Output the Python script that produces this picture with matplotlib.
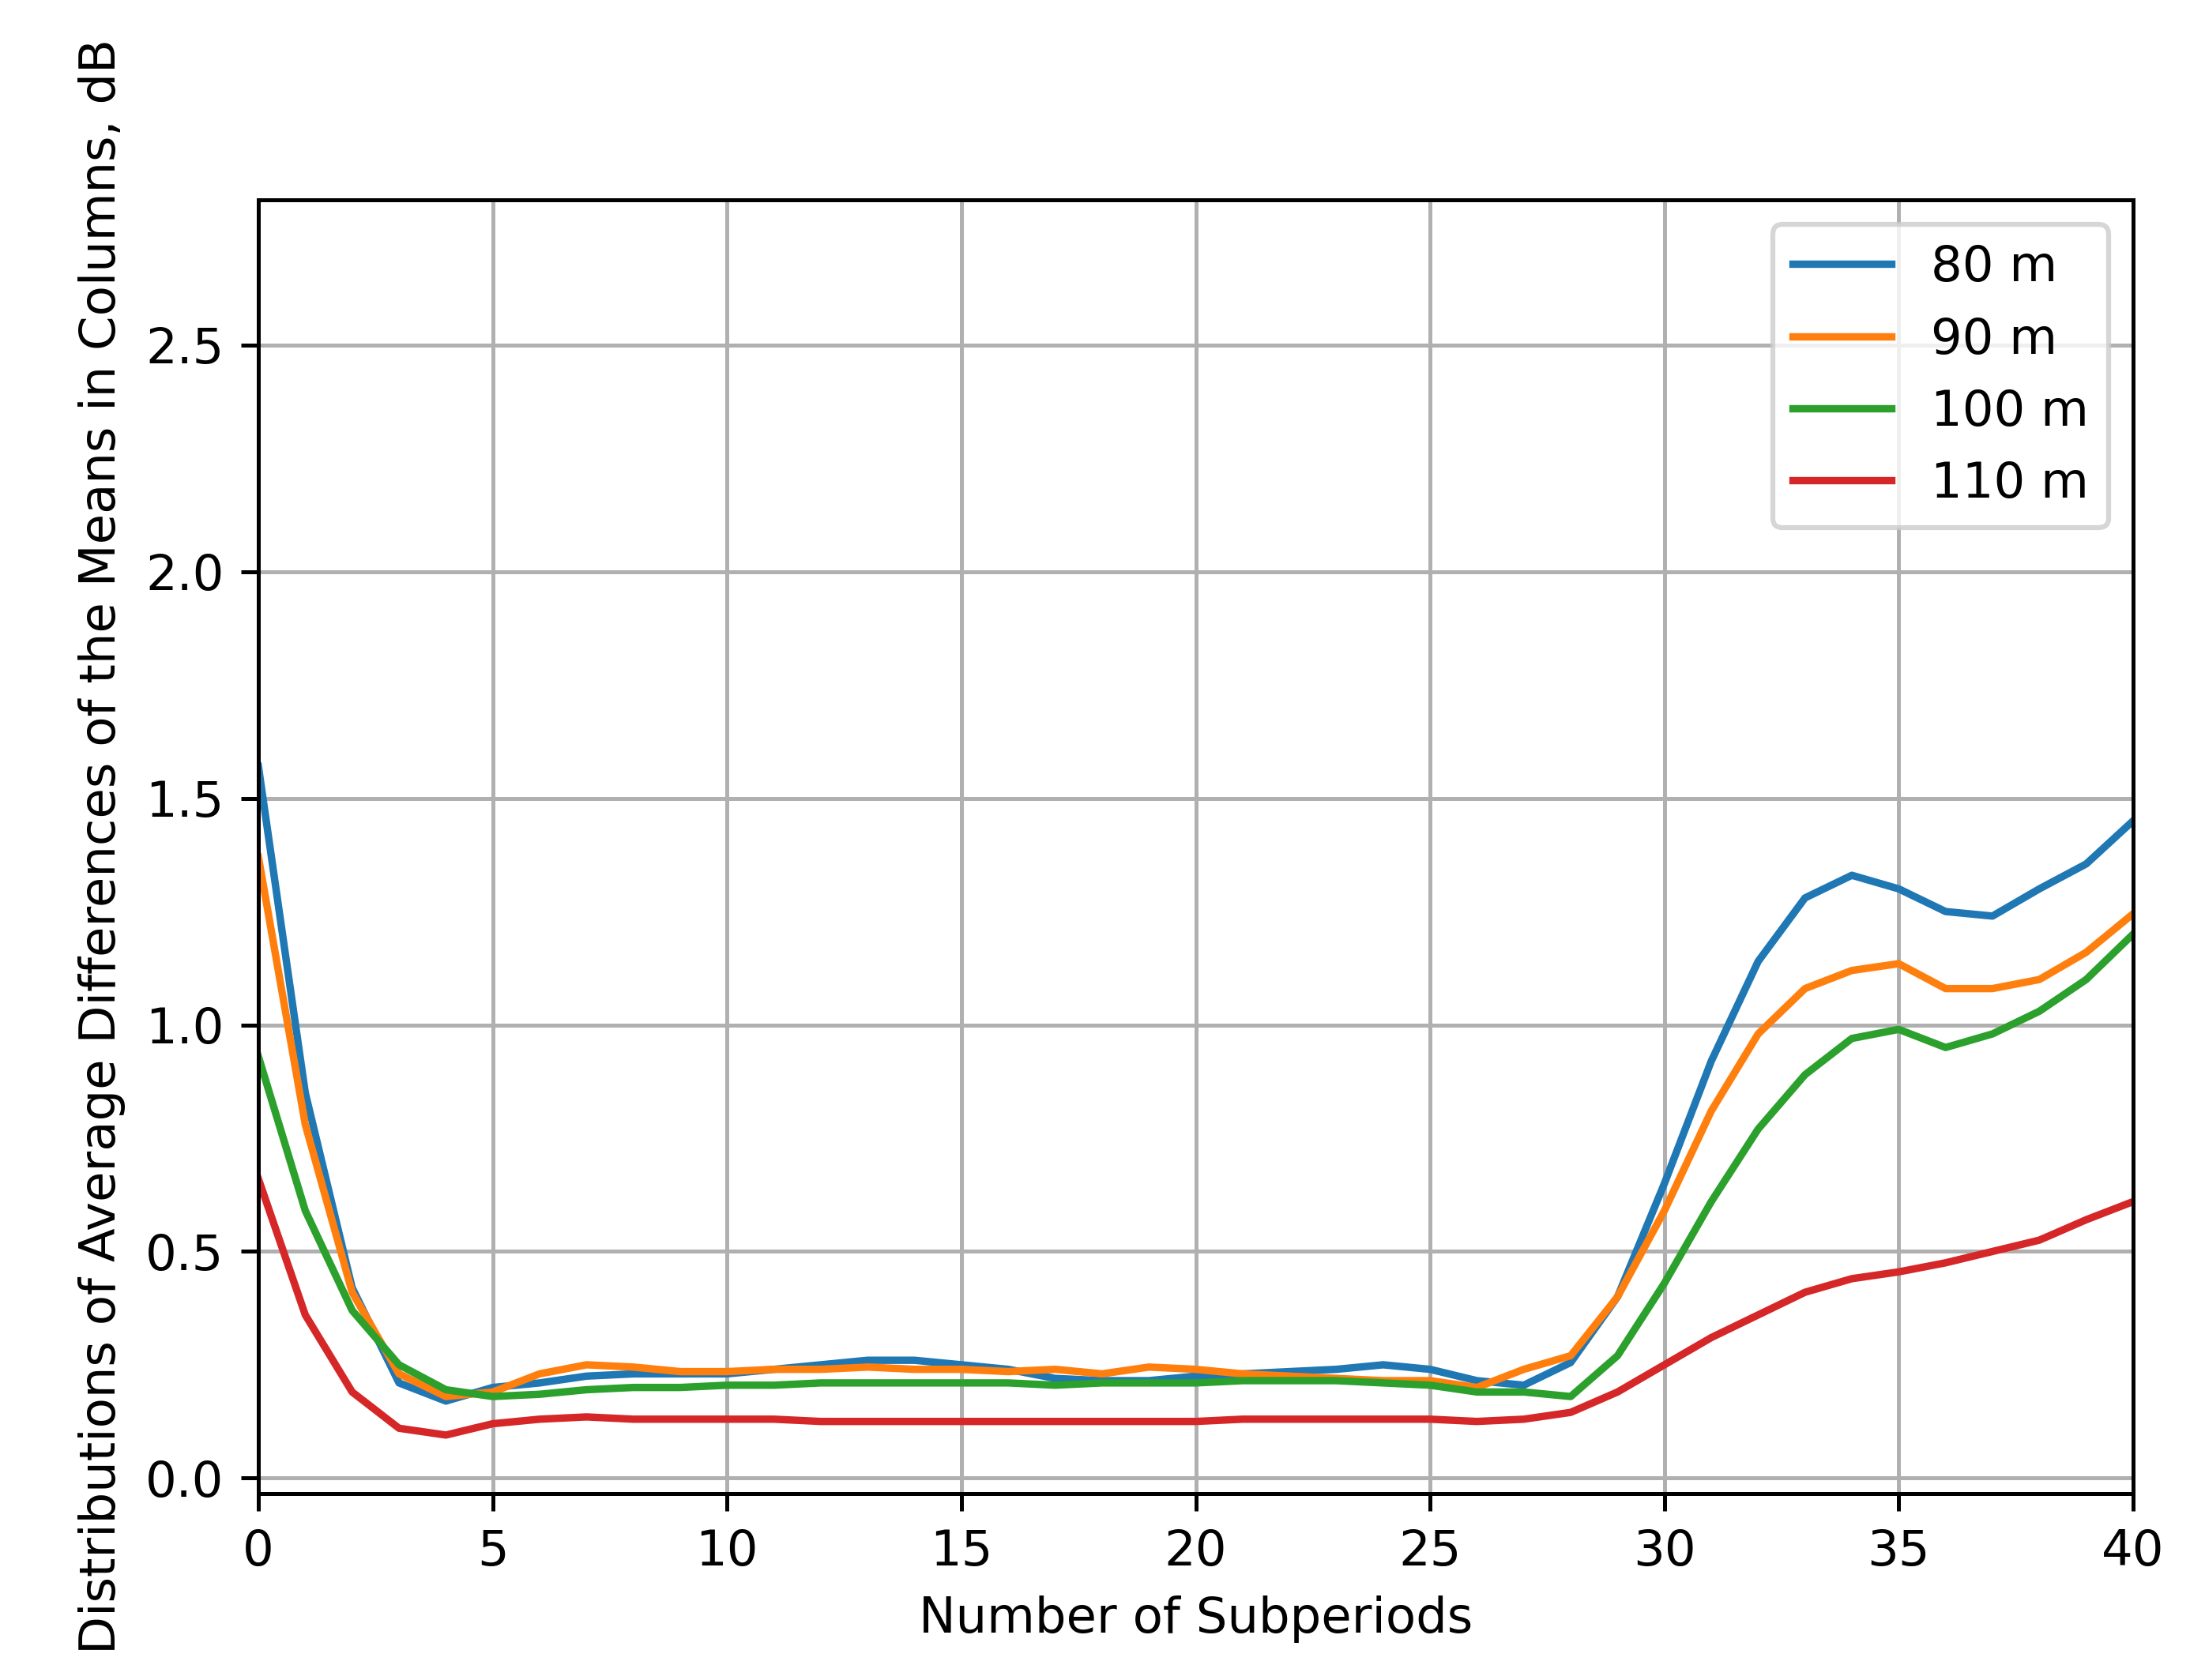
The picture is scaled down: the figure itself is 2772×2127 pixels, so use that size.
import matplotlib
matplotlib.use('Agg')
import matplotlib.pyplot as plt
import numpy as np

x = np.arange(41)
m80 = [1.57, 0.85, 0.42, 0.21, 0.17, 0.20, 0.21, 0.225, 0.23, 0.23, 0.23, 0.24, 0.25, 0.26, 0.26,
       0.25, 0.24, 0.22, 0.215, 0.215, 0.225, 0.23, 0.235, 0.24, 0.25, 0.24, 0.215, 0.205, 0.255,
       0.40, 0.65, 0.92, 1.14, 1.28, 1.33, 1.30, 1.25, 1.24, 1.30, 1.355, 1.45]
m90 = [1.37, 0.78, 0.41, 0.23, 0.18, 0.19, 0.23, 0.25, 0.245, 0.235, 0.235, 0.24, 0.24, 0.245,
       0.24, 0.24, 0.235, 0.24, 0.23, 0.245, 0.24, 0.23, 0.225, 0.22, 0.215, 0.215, 0.20, 0.24,
       0.27, 0.40, 0.59, 0.81, 0.98, 1.08, 1.12, 1.135, 1.08, 1.08, 1.10, 1.16, 1.245]
m100 = [0.93, 0.59, 0.37, 0.25, 0.195, 0.18, 0.185, 0.195, 0.20, 0.20, 0.205, 0.205, 0.21, 0.21,
        0.21, 0.21, 0.21, 0.205, 0.21, 0.21, 0.21, 0.215, 0.215, 0.215, 0.21, 0.205, 0.19, 0.19,
        0.18, 0.27, 0.43, 0.61, 0.77, 0.89, 0.97, 0.99, 0.95, 0.98, 1.03, 1.10, 1.20]
m110 = [0.66, 0.36, 0.19, 0.11, 0.095, 0.12, 0.13, 0.135, 0.13, 0.13, 0.13, 0.13, 0.125, 0.125,
        0.125, 0.125, 0.125, 0.125, 0.125, 0.125, 0.125, 0.13, 0.13, 0.13, 0.13, 0.13, 0.125, 0.13,
        0.145, 0.19, 0.25, 0.31, 0.36, 0.41, 0.44, 0.455, 0.475, 0.50, 0.525, 0.57, 0.61]

fig = plt.figure(figsize=(2772 / 450, 2127 / 450), dpi=450)
ax = fig.add_axes([0.118, 0.111, 0.856, 0.770])
ax.plot(x, m80, lw=1.5, label='80 m')
ax.plot(x, m90, lw=1.5, label='90 m')
ax.plot(x, m100, lw=1.5, label='100 m')
ax.plot(x, m110, lw=1.5, label='110 m')
ax.set_xlim(0, 40)
ax.set_ylim(-0.034, 2.82)
ax.set_yticks([0, 0.5, 1.0, 1.5, 2.0, 2.5])
ax.grid(True)
ax.set_xlabel('Number of Subperiods')
ax.set_ylabel('Distributions of Average Differences of the Means in Columns, dB')
ax.legend(loc='upper right', fontsize=10)
fig.savefig('out.png', dpi=450)
